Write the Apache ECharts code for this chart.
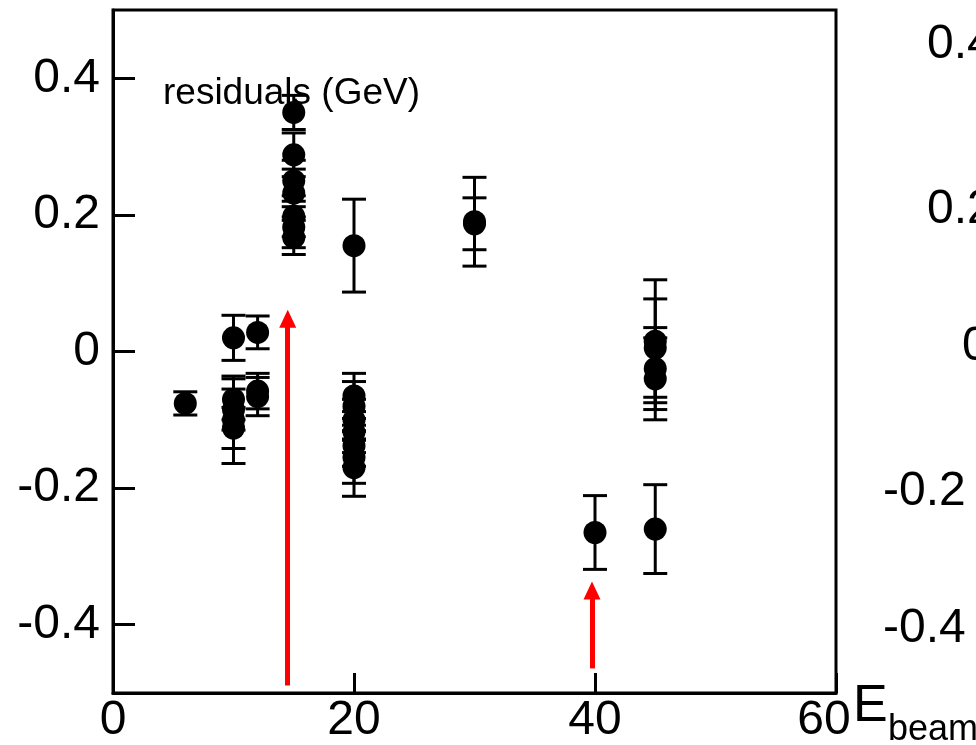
<!DOCTYPE html>
<html>
<head>
<meta charset="utf-8">
<script src="https://cdn.jsdelivr.net/npm/echarts@6/dist/echarts.min.js"></script>
<style>
html,body{margin:0;padding:0;background:#fff;}
#chart{width:976px;height:745px;}
</style>
</head>
<body>
<div id="chart"></div>
<script>
// Beam energy (GeV) of each measurement
var energies = [6, 10, 10, 10, 10, 10, 12, 12, 12,
  15, 15, 15, 15, 15, 15, 15,
  20, 20, 20, 20, 20, 20, 20, 20,
  30, 30, 40, 45, 45, 45, 45, 45];
// Residuals (GeV)
var residuals = [-0.076, 0.020, -0.070, -0.085, -0.100, -0.112, 0.028, -0.058, -0.066,
  0.350, 0.288, 0.250, 0.232, 0.198, 0.182, 0.167,
  0.155, -0.065, -0.080, -0.100, -0.118, -0.138, -0.155, -0.170,
  0.190, 0.187, -0.265, 0.015, 0.005, -0.025, -0.040, -0.260];
// Symmetric error (GeV)
var errors = [0.017, 0.033, 0.030, 0.030, 0.064, 0.030, 0.024, 0.026, 0.028,
  0.025, 0.032, 0.030, 0.035, 0.030, 0.030, 0.025,
  0.068, 0.033, 0.036, 0.030, 0.030, 0.030, 0.038, 0.042,
  0.065, 0.038, 0.054, 0.090, 0.072, 0.060, 0.060, 0.065];
// Red arrows: x, start y, end y
var arrowX = [14.5, 39.75];
var arrowFrom = [-0.489, -0.464];
var arrowTo = [0.048, -0.350];
// Axis ticks
var xTicks = [0, 20, 40, 60];
var yTicks = [-0.4, -0.2, 0, 0.2, 0.4];
// Labels of the neighbouring (cut-off) panel
var rightPanelLabels = ['0.4', '0.2', '0', '-0.2', '-0.4'];

var FONT = '"Liberation Sans", Arial, Helvetica, sans-serif';

var points = energies.map(function (e, i) { return [e, residuals[i]]; });
var bars = energies.map(function (e, i) { return [e, residuals[i] - errors[i], residuals[i] + errors[i]]; });

var chart = echarts.init(document.getElementById('chart'), null, {renderer: 'canvas'});

var rightPos = [
  {x: 927, y: 45}, {x: 927, y: 210}, {x: 962, y: 347}, {x: 883, y: 492}, {x: 883, y: 629}
];
var graphics = [
  {type: 'text', left: 163, top: 75, style: {text: 'residuals (GeV)', font: '37px ' + FONT, fill: '#000'}},
  {type: 'text', x: 853, y: 733, style: {text: 'E', font: '52px ' + FONT, fill: '#000', textVerticalAlign: 'bottom'}},
  {type: 'text', x: 888, y: 748, style: {text: 'beam', font: '36px ' + FONT, fill: '#000', textVerticalAlign: 'bottom'}}
];
rightPanelLabels.forEach(function (t, i) {
  graphics.push({type: 'text', x: rightPos[i].x, y: rightPos[i].y,
    style: {text: t, font: '48px ' + FONT, fill: '#000', textVerticalAlign: 'middle'}});
});

var option = {
  backgroundColor: '#fff',
  animation: false,
  textStyle: {fontFamily: FONT},
  grid: {left: 113, right: 140, top: 10, bottom: 50, show: true, borderColor: '#000', borderWidth: 3},
  xAxis: {
    type: 'value', min: 0, max: 60, interval: 20,
    axisLine: {onZero: false, lineStyle: {color: '#000', width: 3}},
    axisTick: {inside: true, length: 20, lineStyle: {color: '#000', width: 3}, customValues: xTicks},
    axisLabel: {color: '#000', fontSize: 48, fontFamily: FONT, margin: 4, customValues: xTicks,
      formatter: function (v) { return v === 60 ? '{r|60}' : String(v); },
      rich: {r: {fontSize: 48, fontFamily: FONT, color: '#000', padding: [0, 24, 0, 0]}}},
    splitLine: {show: false}
  },
  yAxis: {
    type: 'value', min: -0.5, max: 0.5,
    axisLine: {onZero: false, lineStyle: {color: '#000', width: 3}},
    axisTick: {inside: true, length: 22, lineStyle: {color: '#000', width: 3}, customValues: yTicks},
    axisLabel: {color: '#000', fontSize: 48, fontFamily: FONT, margin: 13, customValues: yTicks,
      formatter: function (v) { return String(Math.round(v * 10) / 10); }},
    splitLine: {show: false}
  },
  graphic: graphics,
  series: [
    {
      type: 'custom',
      data: bars,
      z: 3,
      renderItem: function (params, api) {
        var x = api.value(0);
        var lo = api.coord([x, api.value(1)]);
        var hi = api.coord([x, api.value(2)]);
        var hw = 12;
        var st = {stroke: '#000', lineWidth: 3};
        return {type: 'group', children: [
          {type: 'line', shape: {x1: lo[0], y1: lo[1], x2: hi[0], y2: hi[1]}, style: st},
          {type: 'line', shape: {x1: lo[0] - hw, y1: lo[1], x2: lo[0] + hw, y2: lo[1]}, style: st},
          {type: 'line', shape: {x1: hi[0] - hw, y1: hi[1], x2: hi[0] + hw, y2: hi[1]}, style: st}
        ]};
      }
    },
    {
      type: 'scatter',
      data: points,
      symbol: 'circle',
      symbolSize: 23,
      itemStyle: {color: '#000', opacity: 1},
      z: 4
    },
    {
      type: 'line',
      data: [],
      markLine: {
        silent: true,
        symbol: ['none', 'triangle'],
        symbolSize: [17, 18],
        label: {show: false},
        lineStyle: {color: '#ff0000', width: 5, type: 'solid'},
        data: arrowX.map(function (x, i) {
          return [{coord: [x, arrowFrom[i]]}, {coord: [x, arrowTo[i]]}];
        })
      }
    }
  ]
};
chart.setOption(option);
</script>
</body>
</html>
